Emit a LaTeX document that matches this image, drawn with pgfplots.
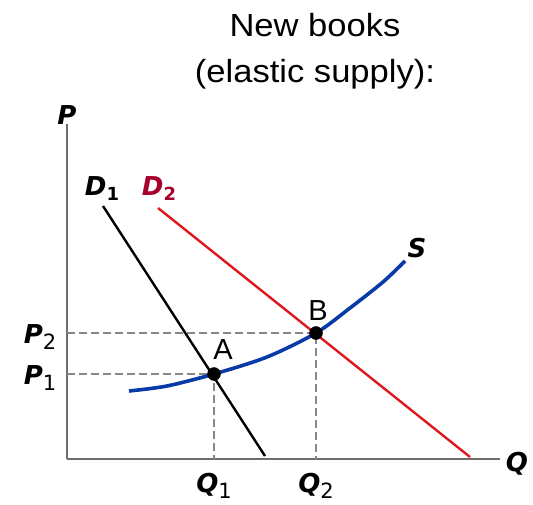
\documentclass[border=0pt]{standalone}
\usepackage{fontspec}
\setmainfont{DejaVu Sans}
\newfontfamily\titlefont{Liberation Sans}
\usepackage{pgfplots}
\pgfplotsset{compat=1.18}

\definecolor{supplyblue}{RGB}{8,58,168}
\definecolor{demandred}{RGB}{222,24,30}
\definecolor{labelred}{RGB}{168,0,44}
\definecolor{axisgray}{RGB}{110,110,110}
\definecolor{dashgray}{RGB}{135,135,135}

\newcommand{\lab}[1]{{\bfseries\itshape #1}}
\newcommand{\sub}[1]{\raisebox{-6pt}{\fontsize{21}{21}\selectfont #1}}
\newcommand{\bsub}[1]{\raisebox{-5pt}{\fontsize{18}{18}\selectfont\bfseries #1}}

\begin{document}
\begin{tikzpicture}
\useasboundingbox (-67pt,-45pt) rectangle (466pt,459pt);
\begin{axis}[
    x=1pt, y=1pt,
    xmin=0, xmax=433,
    ymin=0, ymax=335,
    axis lines*=left,
    axis line style={axisgray, line width=1.6pt},
    xtick={147,249},
    xticklabels={\lab{Q}\sub{1}, \lab{Q}\sub{2}},
    ytick={85,126},
    yticklabels={\lab{P}\sub{1}, \lab{P}\sub{2}},
    major tick length=0pt,
    xticklabel style={anchor=base, yshift=-33pt, inner sep=0pt, font=\fontsize{26}{26}\selectfont},
    yticklabel style={anchor=base, xshift=-27pt, yshift=-10pt, inner sep=0pt, font=\fontsize{26}{26}\selectfont},
    clip=false,
]
% reference lines to the equilibria
\addplot[dashgray, line width=1.2pt, dash pattern=on 8pt off 4pt] coordinates {(0,85) (147,85) (147,0)};
\addplot[dashgray, line width=1.2pt, dash pattern=on 8pt off 4pt] coordinates {(0,126) (249,126) (249,0)};
% demand curves
\addplot[black, line width=2.4pt] coordinates {(36,253) (198,3)};
\addplot[demandred, line width=2.4pt] coordinates {(91,251) (403,2)};
% elastic supply
\addplot[supplyblue, line width=3.6pt, smooth] coordinates {
    (62,68) (100,73) (147,85) (200,102) (249,126) (283,151) (316,177) (338,198)};
% equilibria
\addplot[only marks, mark=*, mark size=6.5pt, black] coordinates {(147,85) (249,126)};

\node[font=\titlefont\fontsize{29}{29}\selectfont] at (axis cs:156,109) {A};
\node[font=\titlefont\fontsize{29}{29}\selectfont] at (axis cs:251,148) {B};
\node[font=\fontsize{26}{26}\selectfont] at (axis cs:35,270) {\lab{D}\bsub{1}};
\node[font=\fontsize{26}{26}\selectfont, text=labelred] at (axis cs:92,270) {\lab{D}\bsub{2}};
\node[font=\fontsize{26}{26}\selectfont] at (axis cs:350,211) {\lab{S}};
\node[font=\fontsize{26}{26}\selectfont] at (axis cs:0,344) {\lab{P}};
\node[font=\fontsize{26}{26}\selectfont] at (axis cs:450,-5) {\lab{Q}};

\node[anchor=base, font=\titlefont\fontsize{32}{32}\selectfont] at (axis cs:248,422) {\scalebox{1.08}[1]{New books}};
\node[anchor=base, font=\titlefont\fontsize{32}{32}\selectfont] at (axis cs:248,376) {\scalebox{1.08}[1]{(elastic supply):}};
\end{axis}
\end{tikzpicture}
\end{document}
